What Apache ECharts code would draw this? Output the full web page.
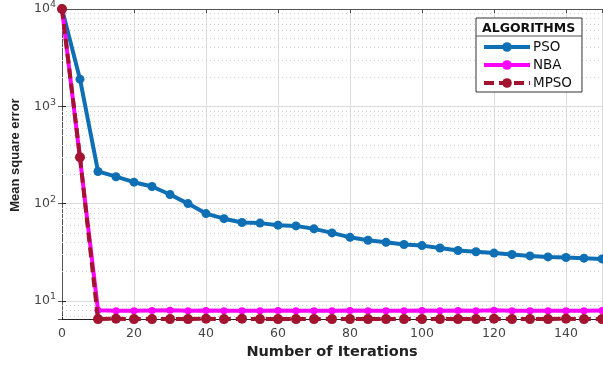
<!DOCTYPE html>
<html>
<head>
<meta charset="utf-8">
<script src="https://cdn.jsdelivr.net/npm/echarts@6/dist/echarts.min.js"></script>
<style>
  html, body { margin: 0; padding: 0; background: #fff; }
  #chart { width: 603px; height: 365px; }
</style>
</head>
<body>
<div id="chart"></div>
<script>
    // iterations (x), one marker every 5
    const iterations = [0, 5, 10, 15, 20, 25, 30, 35, 40, 45, 50, 55, 60, 65, 70, 75,
        80, 85, 90, 95, 100, 105, 110, 115, 120, 125, 130, 135, 140, 145, 150];

    const psoValues = [10000, 1900, 214, 189, 166, 150, 124, 100, 79, 70, 64, 63, 60, 59, 55, 50,
        45, 42, 40, 38, 37, 35, 33, 32, 31, 30, 29, 28.3, 27.9, 27.5, 27];
    const nbaValues = [10000, 290, 8.0, 7.9, 7.9, 7.95, 8.0, 7.9, 7.95, 7.9, 7.9, 7.9, 7.95, 7.9, 7.9, 7.9,
        7.95, 7.9, 7.9, 7.9, 7.95, 7.9, 7.95, 7.9, 8.0, 7.9, 7.9, 7.9, 7.9, 7.9, 7.95];
    const mpsoValues = [10000, 300, 6.5, 6.55, 6.5, 6.5, 6.5, 6.5, 6.55, 6.5, 6.55, 6.5, 6.5, 6.5, 6.5, 6.5,
        6.5, 6.5, 6.5, 6.5, 6.5, 6.5, 6.5, 6.5, 6.55, 6.5, 6.5, 6.5, 6.55, 6.5, 6.5];

    // MATLAB style minor grid (2..9 x 10^k)
    const minorGrid = [7, 8, 9, 20, 30, 40, 50, 60, 70, 80, 90, 200, 300, 400, 500, 600, 700, 800, 900,
        2000, 3000, 4000, 5000, 6000, 7000, 8000, 9000];

    const seriesNames = ['PSO', 'NBA', 'MPSO'];
    const seriesColors = ['#0f6fb5', '#ff00ff', '#a2142f'];

    const pair = (vals) => iterations.map((x, i) => [x, vals[i]]);

    const chart = echarts.init(document.getElementById('chart'));

    const sansFont = 'Liberation Sans, Arial, sans-serif';
    const wideFont = 'DejaVu Sans, sans-serif';

    const option = {
        backgroundColor: '#fff',
        animation: false,
        grid: { left: 62, right: 1, top: 9, bottom: 44 },
        title: {
            text: 'ALGORITHMS',
            left: 482,
            top: 22,
            textStyle: { fontFamily: wideFont, fontSize: 12.5, fontWeight: 'bold', color: '#111' },
            padding: 0
        },
        legend: {
            orient: 'vertical',
            left: 476,
            top: 18,
            padding: [22, 10, 2, 6],
            itemWidth: 46,
            itemHeight: 12,
            itemGap: 4,
            backgroundColor: '#fff',
            borderColor: '#333',
            borderWidth: 1,
            borderRadius: 0,
            lineStyle: { width: 4 },
            textStyle: { fontFamily: wideFont, fontSize: 13.5, color: '#111', padding: [0, 0, 0, -2] },
            data: seriesNames
        },
        graphic: [{
            type: 'line',
            shape: { x1: 476, y1: 36, x2: 582, y2: 36 },
            style: { stroke: '#555', lineWidth: 1 },
            z: 100
        }],
        xAxis: [{
            type: 'value',
            min: 0,
            max: 150,
            interval: 20,
            name: 'Number of Iterations',
            nameLocation: 'middle',
            nameGap: 22,
            nameTextStyle: { fontFamily: wideFont, fontSize: 14.5, fontWeight: 'bold', color: '#222' },
            axisLine: { lineStyle: { color: '#222', width: 1 } },
            axisTick: { inside: true, length: 4, lineStyle: { color: '#222' } },
            axisLabel: { fontFamily: wideFont, fontSize: 12.5, color: '#444', margin: 8, showMaxLabel: false },
            splitLine: { show: true, lineStyle: { color: '#dcdcdc', width: 1 } }
        }, {
            type: 'value',
            position: 'top',
            min: 0,
            max: 150,
            interval: 20,
            axisLine: { show: true, lineStyle: { color: '#555' } },
            axisTick: { inside: true, length: 4, lineStyle: { color: '#555' } },
            axisLabel: { show: false },
            splitLine: { show: false }
        }],
        yAxis: [{
            type: 'log',
            logBase: 10,
            min: 6.5,
            max: 10000,
            name: 'Mean square error',
            nameLocation: 'middle',
            nameGap: 40,
            nameTextStyle: {
                fontFamily: sansFont, fontSize: 13, fontWeight: 'bold', color: '#222',
                padding: [0, 0, 0, 18]
            },
            axisLine: { show: true, lineStyle: { color: '#222', width: 1 } },
            axisTick: { inside: true, length: 4, lineStyle: { color: '#222' } },
            axisLabel: {
                fontFamily: wideFont,
                fontSize: 12.5,
                color: '#444',
                margin: 6,
                formatter: (v) => {
                    const e = Math.log10(v);
                    if (Math.abs(e - Math.round(e)) > 1e-6) return '';
                    return '10{sup|' + Math.round(e) + '}';
                },
                rich: {
                    sup: { fontFamily: wideFont, fontSize: 9.5, color: '#444', padding: [0, 0, 8, 0] }
                }
            },
            splitLine: { show: true, lineStyle: { color: '#dcdcdc', width: 1 } }
        }, {
            type: 'log',
            logBase: 10,
            min: 6.5,
            max: 10000,
            position: 'right',
            axisLine: { show: true, lineStyle: { color: '#555' } },
            axisTick: { inside: true, length: 4, lineStyle: { color: '#555' } },
            axisLabel: { show: false },
            splitLine: { show: false }
        }],
        series: [{
            name: seriesNames[0],
            type: 'line',
            data: pair(psoValues),
            color: seriesColors[0],
            symbol: 'circle',
            symbolSize: 9,
            lineStyle: { width: 4 },
            z: 3,
            markLine: {
                silent: true,
                symbol: 'none',
                label: { show: false },
                lineStyle: { color: '#cfcfcf', type: [1, 3], width: 1 },
                data: minorGrid.map(v => ({ yAxis: v })),
                z: 1
            }
        }, {
            name: seriesNames[1],
            type: 'line',
            data: pair(nbaValues),
            color: seriesColors[1],
            symbol: 'circle',
            symbolSize: 7,
            lineStyle: { width: 4 },
            z: 4
        }, {
            name: seriesNames[2],
            type: 'line',
            data: pair(mpsoValues),
            color: seriesColors[2],
            symbol: 'circle',
            symbolSize: 10,
            clip: false,
            lineStyle: { width: 4, type: [10, 5] },
            z: 5
        }]
    };

    chart.setOption(option);
</script>
</body>
</html>
